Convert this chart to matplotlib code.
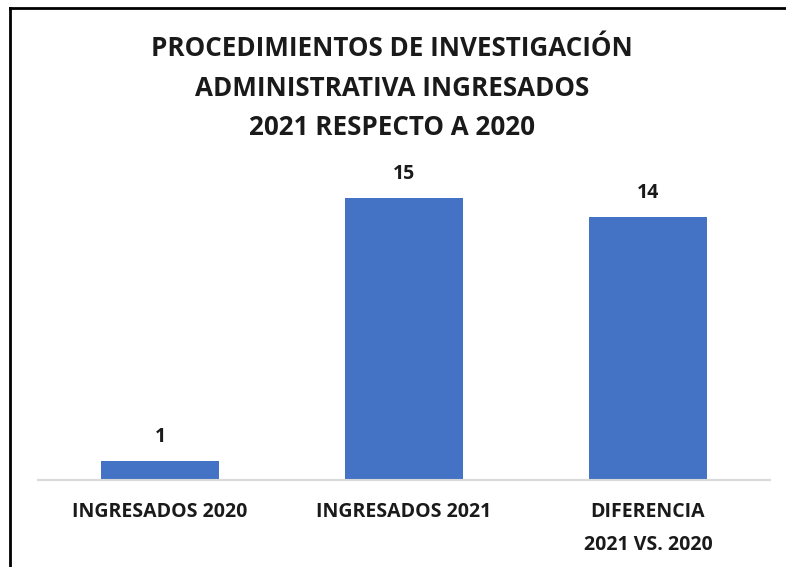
import matplotlib.pyplot as plt
from matplotlib.lines import Line2D

# data
categorias = ["INGRESADOS 2020", "INGRESADOS 2021", "DIFERENCIA\n2021 VS. 2020"]
valores = [1, 15, 14]
titulo = "PROCEDIMIENTOS DE INVESTIGACIÓN\nADMINISTRATIVA INGRESADOS\n2021 RESPECTO A 2020"

plt.rcParams['font.family'] = ['Open Sans', 'DejaVu Sans']

fig = plt.figure(figsize=(7.86, 5.67), dpi=100)
ax = fig.add_axes([38/786, 87/567, 732/786, 301/567])

x = range(len(categorias))
barras = ax.bar(x, valores, width=0.485, color="#4472C4")

for xi, v in zip(x, valores):
    ax.annotate(str(v), (xi, v), xytext=(0, 10), textcoords="offset points",
                ha="center", va="bottom", fontsize=14, fontweight="bold",
                color="#1a1a1a", annotation_clip=False)

ax.set_xlim(-0.5, 2.5)
ax.set_ylim(0, 16)
ax.set_xticks(list(x))
ax.set_xticklabels(categorias, fontsize=14, fontweight="bold", color="#1a1a1a",
                   linespacing=1.85)
ax.tick_params(axis="x", length=0, pad=16)
ax.set_yticks([])
for s in ["top", "right", "left"]:
    ax.spines[s].set_visible(False)
ax.spines["bottom"].set_color("#d9d9d9")
ax.spines["bottom"].set_linewidth(1.5)

fig.text(392/786, 1 - 88/567, titulo, ha="center", va="center",
         fontsize=18.7, fontweight="bold", color="#1a1a1a", linespacing=1.6)

# border of the picture (left and top only visible)
fig.add_artist(Line2D([10/786, 10/786], [0, 1 - 8/567], transform=fig.transFigure,
                      color="black", linewidth=2))
fig.add_artist(Line2D([10/786, 1], [1 - 8/567, 1 - 8/567], transform=fig.transFigure,
                      color="black", linewidth=2))

fig.savefig("out.png", dpi=100)
